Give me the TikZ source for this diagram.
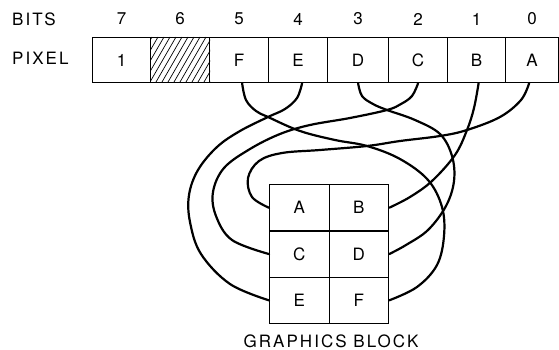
\documentclass[tikz,border=0pt]{standalone}
\usepackage{fontspec}
\setmainfont{TeX Gyre Heros}[LetterSpace=12]
\begin{document}
\begin{tikzpicture}[x=1pt,y=-1pt,
  every node/.style={font=\fontsize{17}{20}\selectfont},
  pcell/.style={draw,line width=1.2pt,inner sep=0pt,anchor=north west,minimum height=45pt},
  bcell/.style={draw,line width=1.2pt,inner sep=0pt,anchor=north west,minimum width=59.5pt,minimum height=46.3pt},
  wire/.style={line width=2.2pt,line join=round,line cap=round},
  lbl/.style={inner sep=0pt,anchor=west}]
\useasboundingbox (0,0) rectangle (559,350);
% labels
\node[lbl] (bits) at (12,19) {BITS};
\node[lbl] (pix) at (12,58) {PIXEL};
% pixel cells
\node[pcell,minimum width=58pt] (p7) at (92,37) {1};
\node[pcell,minimum width=59pt] (p6) at (150,37) {};
\node[pcell,minimum width=59pt] (p5) at (209,37) {F};
\node[pcell,minimum width=59pt] (p4) at (268,37) {E};
\node[pcell,minimum width=61pt] (p3) at (327,37) {D};
\node[pcell,minimum width=59pt] (p2) at (388,37) {C};
\node[pcell,minimum width=58pt] (p1) at (447,37) {B};
\node[pcell,minimum width=53pt] (p0) at (505,37) {A};
% bit numbers
\foreach \c/\t in {p7/7,p6/6,p5/5,p4/4,p3/3,p2/2,p1/1,p0/0}
  \node[inner sep=0pt] (n\t) at (\c.center |- 0,19) {\t};
% hatch
\begin{scope}
  \clip (p6.north west) rectangle (p6.south east);
  \foreach \i in {-30,-24,...,60}
    \draw[line width=0.7pt] (150+\i,82) -- (176+\i,37);
\end{scope}
% graphics block
\node[bcell] (bA) at (269,184) {A};
\node[bcell] (bB) at (328.5,184) {B};
\node[bcell] (bC) at (269,230.3) {C};
\node[bcell] (bD) at (328.5,230.3) {D};
\node[bcell] (bE) at (269,276.6) {E};
\node[bcell] (bF) at (328.5,276.6) {F};
\node[inner sep=0pt] (gb) at (331,341) {GRAPHICS BLOCK};
% wires
\draw[wire] plot[smooth,tension=0.6] coordinates {([xshift=3pt]p5.south) (246,100) (256,111) (268,117) (300,131) (335,140) (367,146) (400,159) (428,180) (442,207) (444,236) (437,265) (417,287) (bF.east)};
\draw[wire] plot[smooth,tension=0.6] coordinates {([xshift=4pt]p4.south) (297,98) (285,109) (268,117) (240,131) (217,147) (198,170) (189,195) (190,222) (201,254) (230,284) (bE.west)};
\draw[wire] plot[smooth,tension=0.6] coordinates {(p2.south) (412,96) (401,104) (387,110) (350,118) (310,125) (280,134) (250,149) (224,168) (213,192) (216,216) (232,240) (bC.west)};
\draw[wire] plot[smooth,tension=0.6] coordinates {(p3.south) (362,96) (373,104) (387,110) (415,120) (440,134) (452,156) (454,181) (446,206) (428,230) (406,245) (bD.east)};
\draw[wire] plot[smooth,tension=0.6] coordinates {([xshift=2pt]p1.south) (474,108) (467,130) (455,155) (432,181) (410,197) (bB.east)};
\draw[wire] plot[smooth,tension=0.6] coordinates {([xshift=-3pt]p0.south) (521,100) (500,117) (467,130) (440,136) (400,141) (367,146) (320,150) (282,153) (259,161) (248,178) (252,197) (bA.west)};
\end{tikzpicture}
\end{document}
